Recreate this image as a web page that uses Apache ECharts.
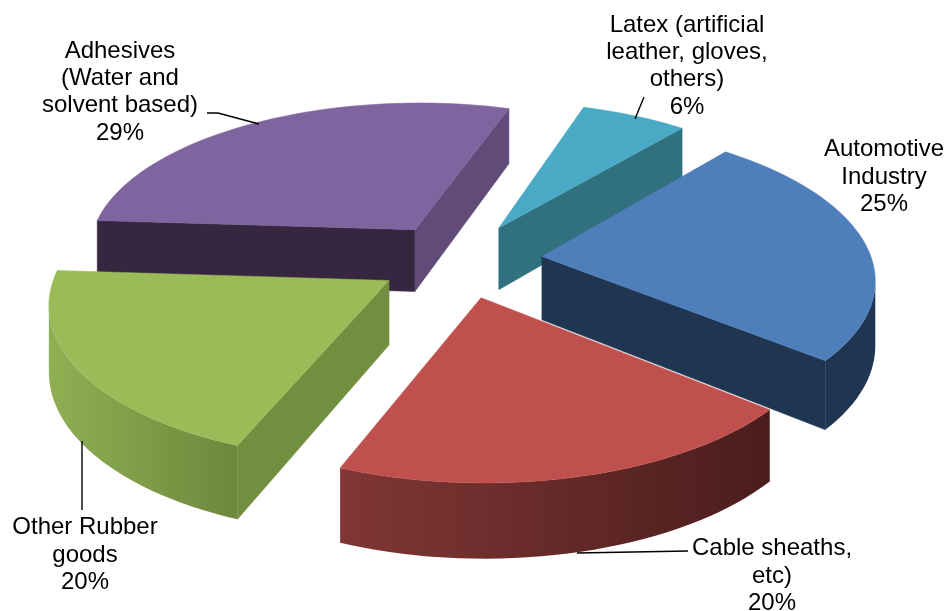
<!DOCTYPE html>
<html><head><meta charset="utf-8">
<style>html,body{margin:0;padding:0;background:#fff}#c{width:952px;height:611px}</style>
<script src="https://cdn.jsdelivr.net/npm/echarts@6/dist/echarts.min.js"></script>
</head><body><div id="c"></div>
<script>
const categories = ['Automotive\nIndustry', 'Cable sheaths,\netc)', 'Other Rubber\ngoods', 'Adhesives\n(Water and\nsolvent based)', 'Latex (artificial\nleather, gloves,\nothers)'];
const values = [25, 20, 20, 29, 6];

// painter's order, back to front
const drawOrder = [4, 3, 0, 2, 1];
const topColors = ['#4f7fba', '#bf504d', '#9bbb59', '#8064a0', '#4aaac5'];
const startWallColors = ['#1f3552', '#4a1e1d', '#728e3f', '#37263f', '#31707f'];
const endWallColors = ['#1f3552', '#7f3735', '#9bbb59', '#614b79', '#31707f'];
const arcRightColors = ['#1f3552', '#4a1d1c', '#6d883d', '#37263f', '#31707f'];
const arcLeftColors = ['#1f3552', '#803735', '#90af52', '#37263f', '#31707f'];
const labelCenters = [[884, 177], [772, 576], [85, 555], [120, 92], [687, 66]];
const leaders = [
  null,
  [[577, 553], [688, 551]],
  [[82, 441], [82, 510]],
  [[207, 113], [218, 113], [259, 124]],
  [[644, 97], [635, 119]]
];

// view of the tilted pie
const view = {cx: 460, cy: 260, a: 330, b: 150.5, k: 0.13, depth: 63.5, explode: 0.25, startDeg: 39.7};
const total = values.reduce((s, v) => s + v, 0);
const rad = d => d * Math.PI / 180;
function project(X, Y, z) {
  const w = 1 + view.k * Y;
  return [view.cx + view.a * X / w, view.cy - view.b * Y / w + z * view.depth / w];
}
const sliceAngles = [];
{
  let acc = view.startDeg;
  values.forEach(v => { const s = v / total * 360; sliceAngles.push([acc, acc + s]); acc += s; });
}
function shoelace(p) {
  let s = 0;
  p.forEach((q, i) => { const r = p[(i + 1) % p.length]; s += q[0] * r[1] - r[0] * q[1]; });
  return s;
}
function renderSlice(params, api) {
  const i = api.value(0);
  const [a0, a1] = sliceAngles[i];
  const mid = rad((a0 + a1) / 2);
  const ox = view.explode * Math.sin(mid), oy = view.explode * Math.cos(mid);
  const n = Math.max(4, Math.round((a1 - a0) / 2));
  const world = [[ox, oy]];
  for (let j = 0; j <= n; j++) {
    const f = rad(a0 + (a1 - a0) * j / n);
    world.push([ox + Math.sin(f), oy + Math.cos(f)]);
  }
  const top = world.map(p => project(p[0], p[1], 0));
  const bot = world.map(p => project(p[0], p[1], 1));
  const children = [];
  const faceVisible = e => {
    const e2 = (e + 1) % world.length;
    return shoelace([top[e], top[e2], bot[e2], bot[e]]) < 0;
  };
  const quadOf = e => {
    const e2 = (e + 1) % world.length;
    return [top[e], top[e2], bot[e2], bot[e]];
  };
  const solid = (pts, col) => ({type: 'polygon', shape: {points: pts}, style: {fill: col, stroke: col, lineWidth: 0.5}, silent: true});
  // curved outer wall: the visible run of rim edges as one shaded polygon
  let from = -1, to = -1;
  for (let e = 1; e < world.length - 1; e++) {
    if (faceVisible(e)) { if (from < 0) from = e; to = e + 1; }
  }
  if (from > 0) {
    const upper = top.slice(from, to + 1);
    const lower = bot.slice(from, to + 1).reverse();
    const pts = upper.concat(lower);
    const xs = pts.map(p => p[0]);
    const minX = Math.min.apply(null, xs), maxX = Math.max.apply(null, xs);
    const grad = new echarts.graphic.LinearGradient(minX, 0, maxX, 0, [
      {offset: 0, color: arcLeftColors[i]},
      {offset: 1, color: arcRightColors[i]}
    ], true);
    children.push({type: 'polygon', shape: {points: pts}, style: {fill: grad}, silent: true});
  }
  // flat radial walls
  if (faceVisible(0)) children.push(solid(quadOf(0), startWallColors[i]));
  if (faceVisible(world.length - 1)) children.push(solid(quadOf(world.length - 1), endWallColors[i]));
  children.push(solid(top, topColors[i]));
  return {type: 'group', children};
}
function renderLabel(params, api) {
  const i = api.value(0);
  const children = [];
  if (leaders[i]) children.push({type: 'polyline', shape: {points: leaders[i]}, style: {stroke: '#000', lineWidth: 1.4, fill: null}, silent: true});
  children.push({type: 'text', x: labelCenters[i][0], y: labelCenters[i][1], silent: true,
    style: {text: categories[i] + '\n' + values[i] + '%', align: 'center', verticalAlign: 'middle',
      font: '24px "Liberation Sans", Arial, sans-serif', lineHeight: 27.3, fill: '#000'}});
  return {type: 'group', children};
}
const chart = echarts.init(document.getElementById('c'), null, {renderer: 'canvas'});
chart.setOption({
  animation: false,
  backgroundColor: '#fff',
  series: [
    {type: 'custom', coordinateSystem: 'none', renderItem: renderSlice, data: drawOrder.map(i => [i, values[i]]), encode: {}},
    {type: 'custom', coordinateSystem: 'none', renderItem: renderLabel, data: values.map((v, i) => [i, v]), z: 5}
  ]
});
</script></body></html>
